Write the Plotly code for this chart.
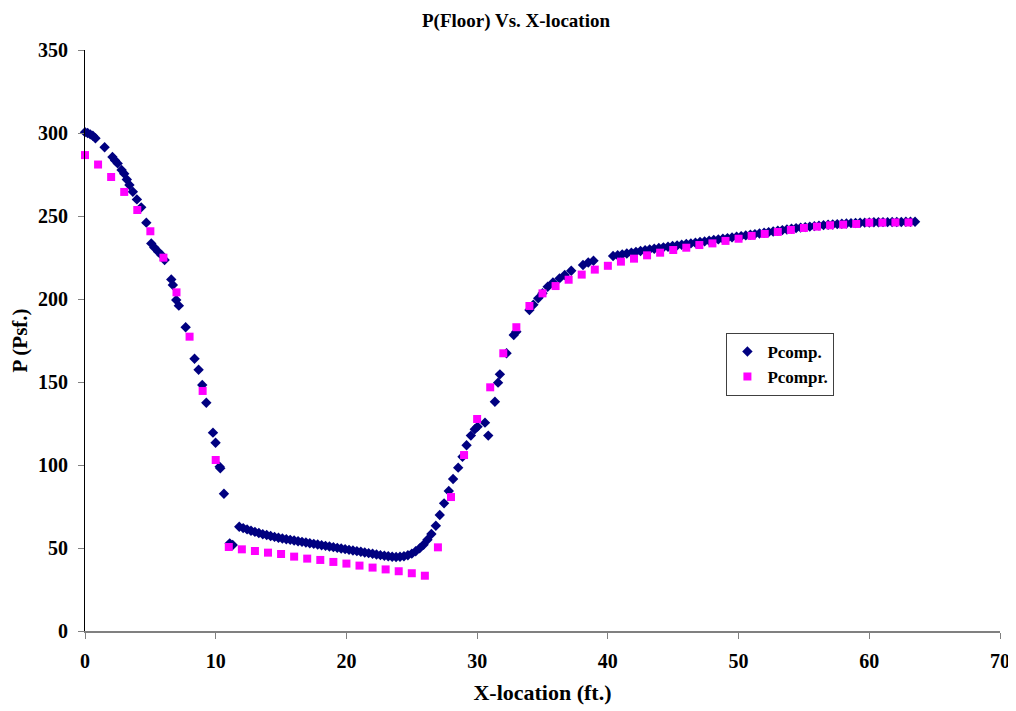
import plotly.graph_objects as go

# Pcomp. (navy diamonds)
pcomp_x = [
    0.0, 0.2, 0.4, 0.6, 0.8, 1.5, 2.1, 2.3, 2.5, 2.8, 3.0, 3.2, 3.4, 3.66, 3.97,
    4.3, 4.69, 5.07, 5.3, 5.6, 5.85, 6.09, 6.6, 6.72, 6.98, 7.18, 7.7, 8.38, 8.69,
    8.97, 9.28, 9.79, 9.99, 10.3, 10.35, 10.63, 11.07, 11.3,
    11.8, 12.1, 12.4, 12.7, 13.0, 13.3, 13.6, 13.9, 14.2, 14.5, 14.8, 15.1, 15.4,
    15.7, 16.0, 16.3, 16.6, 16.9, 17.2, 17.5, 17.8, 18.1, 18.4, 18.7, 19.0, 19.3,
    19.6, 19.9, 20.2, 20.5, 20.8, 21.1, 21.4, 21.7, 22.0, 22.3, 22.6, 22.9, 23.2,
    23.5, 23.8, 24.1, 24.4, 24.7, 25.0, 25.3, 25.6, 25.9, 26.2, 26.5, 26.84,
    27.14, 27.47, 27.83, 28.16, 28.55, 28.88, 29.19, 29.52, 29.82, 30.03, 30.6,
    30.85, 31.36, 31.6, 31.74, 32.25, 32.8, 33.0,
    34.0, 34.3, 34.67, 35.0, 35.4, 35.8, 36.3, 36.7, 37.2, 38.1, 38.5, 38.9,
    40.4, 40.75, 41.1, 41.45, 41.8, 42.15, 42.5, 42.85, 43.2, 43.55, 43.9, 44.25,
    44.6, 44.95, 45.3, 45.65, 46.0, 46.35, 46.7, 47.05, 47.4, 47.75, 48.1, 48.45,
    48.8, 49.15, 49.5, 49.85, 50.2, 50.55, 50.9, 51.25, 51.6, 51.95, 52.3, 52.65,
    53.0, 53.35, 53.7, 54.05, 54.4, 54.75, 55.1, 55.45, 55.8, 56.15, 56.5, 56.85,
    57.2, 57.55, 57.9, 58.25, 58.6, 58.95, 59.3, 59.65, 60.0, 60.35, 60.7, 61.05,
    61.4, 61.75, 62.1, 62.45, 62.8, 63.15, 63.5,
]
pcomp_y = [
    300.5, 300.0, 299.2, 298.3, 296.8, 291.4, 285.5, 283.5, 281.7, 277.7, 275.5,
    272.0, 268.7, 264.6, 260.0, 255.2, 246.0, 233.5, 231.0, 228.5, 226.5, 223.5,
    211.8, 208.4, 199.4, 196.0, 183.0, 164.0, 157.4, 148.2, 137.5, 119.5, 113.4,
    99.0, 98.0, 82.7, 52.8, 51.8,
    62.8, 62.0, 61.2, 60.4, 59.7, 59.0, 58.3, 57.8, 57.2, 56.7, 56.2, 55.7, 55.3,
    54.9, 54.5, 54.1, 53.7, 53.3, 52.9, 52.5, 52.1, 51.7, 51.3, 50.9, 50.5, 50.1,
    49.7, 49.3, 48.9, 48.5, 48.1, 47.7, 47.3, 46.9, 46.5, 46.1, 45.7, 45.3, 45.0,
    44.7, 44.6, 44.7, 45.0, 45.6, 46.6, 48.0, 49.8, 52.0, 55.0, 58.4, 63.4,
    69.9, 76.9, 84.3, 91.6, 98.4, 105.0, 111.9, 117.7, 121.5, 123.1, 125.5,
    117.7, 138.1, 149.6, 154.6, 167.3, 178.3, 180.3,
    193.4, 196.5, 200.4, 203.5, 207.4, 210.0, 212.4, 214.5, 217.0, 220.5, 222.0, 223.0,
    225.9, 226.4, 226.9, 227.4, 227.9, 228.4, 228.9, 229.4, 229.9, 230.3, 230.7, 231.1,
    231.5, 231.9, 232.3, 232.7, 233.1, 233.5, 233.9, 234.3, 234.7, 235.1, 235.5, 235.9,
    236.3, 236.7, 237.1, 237.5, 237.9, 238.3, 238.7, 239.1, 239.5, 239.9, 240.3, 240.7,
    241.1, 241.5, 241.9, 242.3, 242.7, 243.0, 243.3, 243.6, 243.9, 244.2, 244.5, 244.7,
    244.9, 245.1, 245.3, 245.5, 245.7, 245.8, 245.9, 246.0, 246.1, 246.2, 246.2, 246.3,
    246.3, 246.4, 246.4, 246.4, 246.5, 246.5, 246.5,
]

# Pcompr. (magenta squares)
pcompr_x = list(range(0, 64))
pcompr_y = [
    286.7, 281.0, 273.5, 264.5, 253.6, 240.8, 224.9, 204.0, 177.3, 144.6, 103.0,
    50.6, 49.2, 48.2, 47.2, 46.4, 44.8, 43.6, 42.8, 41.6, 40.6, 39.4, 38.2, 37.1,
    36.0, 34.8, 33.3, 50.4, 80.7, 106.0, 127.7, 146.8, 167.3, 183.0, 195.8, 203.4,
    207.8, 211.6, 214.7, 217.7, 220.0, 222.5, 224.3, 226.3, 227.9, 229.5, 230.9,
    232.5, 233.5, 235.0, 236.3, 238.0, 239.2, 240.4, 241.6, 242.8, 243.6, 244.4,
    244.8, 245.2, 246.0, 246.0, 246.1, 246.1,
]

x_ticks = [0, 10, 20, 30, 40, 50, 60, 70]
y_ticks = [0, 50, 100, 150, 200, 250, 300, 350]

font_family = "Liberation Serif"

fig = go.Figure()
fig.add_trace(go.Scatter(
    x=pcomp_x, y=pcomp_y, mode="markers", name="<b>Pcomp.</b>",
    marker=dict(symbol="diamond", size=8, color="#000080"),
    cliponaxis=False,
))
fig.add_trace(go.Scatter(
    x=pcompr_x, y=pcompr_y, mode="markers", name="<b>Pcompr.</b>",
    marker=dict(symbol="square", size=8, color="#FF00FF"),
    cliponaxis=False,
))

fig.update_layout(
    width=1016, height=711,
    margin=dict(l=77, r=24, t=42, b=88, autoexpand=False),
    paper_bgcolor="white", plot_bgcolor="white",
    font=dict(family=font_family, color="black", size=16),
    title=dict(text="<b>P(Floor) Vs. X-location</b>", x=0.5, xanchor="center",
               y=0.983, yanchor="middle", font=dict(size=19, family=font_family)),
    xaxis=dict(
        range=[0, 70], tickvals=x_ticks, ticktext=[f"<b>{v}</b>" for v in x_ticks],
        showgrid=False, zeroline=False, showline=True, linecolor="#808080",
        linewidth=1.5, ticks="outside", ticklen=6, tickcolor="#808080",
        tickfont=dict(size=20, family=font_family), ticklabelstandoff=5,
        automargin=False,
        title=dict(text="<b>X-location (ft.)</b>", font=dict(size=22), standoff=14),
    ),
    yaxis=dict(
        range=[0, 350], tickvals=y_ticks, ticktext=[f"<b>{v}</b>" for v in y_ticks],
        showgrid=False, zeroline=False, showline=True, linecolor="black",
        linewidth=1, ticks="outside", ticklen=6, tickcolor="#808080",
        tickfont=dict(size=20, family=font_family), ticklabelstandoff=6,
        automargin=False,
        title=dict(text="<b>P (Psf.)</b>", font=dict(size=21), standoff=12),
    ),
    legend=dict(
        x=0.701, y=0.513, xanchor="left", yanchor="top",
        bordercolor="#404040", borderwidth=1, bgcolor="white",
        font=dict(size=17, family=font_family), tracegroupgap=0,
        itemwidth=30,
    ),
    showlegend=True,
)

fig.write_html("out.html")
